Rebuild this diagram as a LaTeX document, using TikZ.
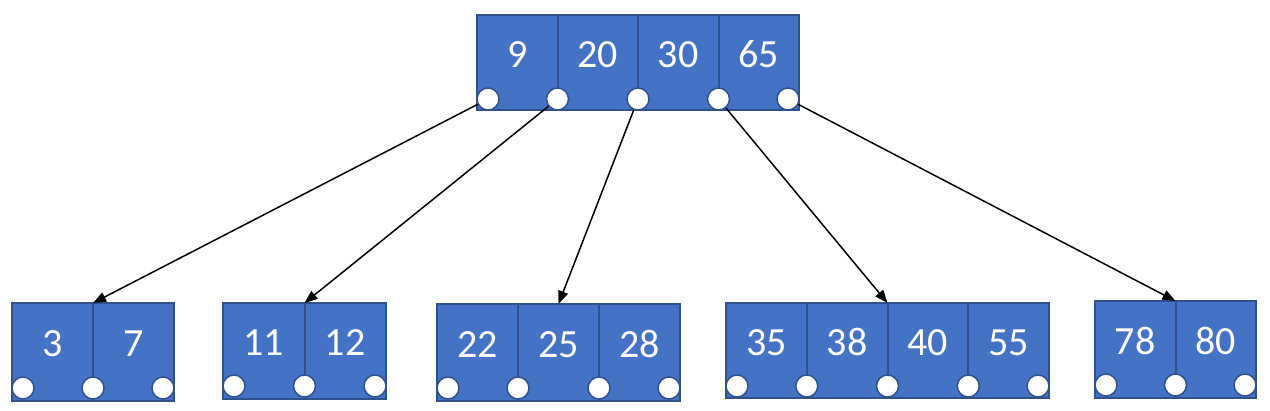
\documentclass[tikz,border=0pt]{standalone}
\usepackage{fontspec}
\setmainfont{Carlito}
\usetikzlibrary{arrows.meta,calc}
\definecolor{cellfill}{HTML}{4472C4}
\definecolor{cellline}{HTML}{2F528F}
\begin{document}
\begin{tikzpicture}[x=1pt,y=-1pt,
  cell/.style={draw=cellline, fill=cellfill, line width=2pt, minimum width=81pt,
    minimum height=96pt, inner sep=0pt, outer sep=0pt, anchor=north west, text=white,
    font=\fontsize{40}{44}\selectfont, text height=27pt, text depth=17pt},
  rootcell/.style={cell, minimum width=80.5pt, minimum height=95pt},
  ptr/.style={circle, draw=cellline, fill=white, line width=1.5pt,
    minimum size=22pt, inner sep=0pt},
  link/.style={line width=1.5pt, -{Triangle[length=13pt,width=10pt]}}]
\useasboundingbox (0,0) rectangle (1270,411);

% root
\node[rootcell] (ra) at (477,15) {9};
\node[rootcell] (rb) at (ra.north east) {20};
\node[rootcell] (rc) at (rb.north east) {30};
\node[rootcell] (rd) at (rc.north east) {65};
\node[ptr] (r0) at ($(ra.south west)+(11,-11)$) {};
\node[ptr] (r1) at ($(ra.south east)+(0,-11)$) {};
\node[ptr] (r2) at ($(rb.south east)+(0,-11)$) {};
\node[ptr] (r3) at ($(rc.south east)+(0,-11)$) {};
\node[ptr] (r4) at ($(rd.south east)+(-11,-11)$) {};

% leaf 1
\node[cell, minimum height=98pt] (l1a) at (12,303) {3};
\node[cell, minimum height=98pt] (l1b) at (l1a.north east) {7};
\node[ptr] (p10) at ($(l1a.south west)+(11,-13)$) {};
\node[ptr] (p11) at ($(l1a.south east)+(0,-13)$) {};
\node[ptr] (p12) at ($(l1b.south east)+(-11,-13)$) {};

% leaf 2
\node[cell, minimum width=81.5pt] (l2a) at (223,303) {11};
\node[cell, minimum width=81.5pt] (l2b) at (l2a.north east) {12};
\node[ptr] (p20) at ($(l2a.south west)+(11,-13)$) {};
\node[ptr] (p21) at ($(l2a.south east)+(0,-13)$) {};
\node[ptr] (p22) at ($(l2b.south east)+(-11,-13)$) {};

% leaf 3
\node[cell, minimum height=97pt] (l3a) at (437,304) {22};
\node[cell, minimum height=97pt] (l3b) at (l3a.north east) {25};
\node[cell, minimum height=97pt] (l3c) at (l3b.north east) {28};
\node[ptr] (p30) at ($(l3a.south west)+(11,-13)$) {};
\node[ptr] (p31) at ($(l3a.south east)+(0,-13)$) {};
\node[ptr] (p32) at ($(l3b.south east)+(0,-13)$) {};
\node[ptr] (p33) at ($(l3c.south east)+(-11,-13)$) {};

% leaf 4
\node[cell, minimum width=80.75pt, minimum height=95pt] (l4a) at (726,303) {35};
\node[cell, minimum width=80.75pt, minimum height=95pt] (l4b) at (l4a.north east) {38};
\node[cell, minimum width=80.75pt, minimum height=95pt] (l4c) at (l4b.north east) {40};
\node[cell, minimum width=80.75pt, minimum height=95pt] (l4d) at (l4c.north east) {55};
\node[ptr] (p40) at ($(l4a.south west)+(11,-12)$) {};
\node[ptr] (p41) at ($(l4a.south east)+(0,-12)$) {};
\node[ptr] (p42) at ($(l4b.south east)+(0,-12)$) {};
\node[ptr] (p43) at ($(l4c.south east)+(0,-12)$) {};
\node[ptr] (p44) at ($(l4d.south east)+(-11,-12)$) {};

% leaf 5
\node[cell, minimum width=80.5pt, minimum height=97pt] (l5a) at (1095,301) {78};
\node[cell, minimum width=80.5pt, minimum height=97pt] (l5b) at (l5a.north east) {80};
\node[ptr] (p50) at ($(l5a.south west)+(11,-13)$) {};
\node[ptr] (p51) at ($(l5a.south east)+(0,-13)$) {};
\node[ptr] (p52) at ($(l5b.south east)+(-11,-13)$) {};

% links
\draw[link] (r0) -- (l1a.north east);
\draw[link] (r1) -- (l2a.north east);
\draw[link] (r2) -- (l3b.north);
\draw[link] (r3) -- (l4b.north east);
\draw[link] (r4) -- (l5a.north east);
\end{tikzpicture}
\end{document}
